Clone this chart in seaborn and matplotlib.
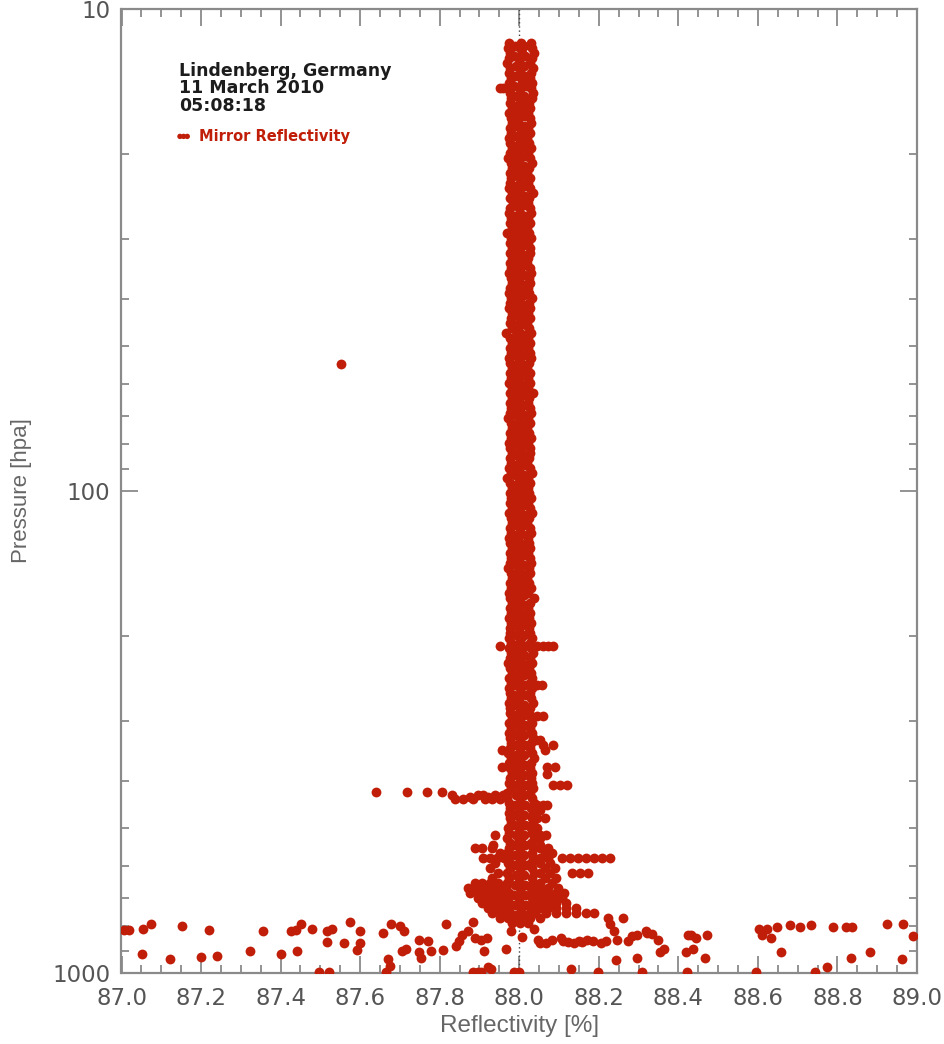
import matplotlib
matplotlib.use("Agg")
import matplotlib.pyplot as plt
from matplotlib import font_manager
from matplotlib.ticker import FixedLocator, NullFormatter, MultipleLocator
import pandas as pd
import seaborn as sns

# ---------------- data ----------------
# dense core column: pressure levels and three samples per level
col_p = [11.77, 12.05, 12.35, 12.64, 12.95, 13.26, 13.58, 13.91, 14.25, 14.59,
         14.94, 15.30, 15.67, 16.05, 16.44, 16.84, 17.24, 17.66, 18.09, 18.52,
         18.97, 19.43, 19.90, 20.38, 20.87, 21.38, 21.89, 22.42, 22.96, 23.52,
         24.09, 24.67, 25.26, 25.87, 26.50, 27.14, 27.80, 28.47, 29.16, 29.86,
         30.58, 31.32, 32.08, 32.85, 33.65, 34.46, 35.29, 36.14, 37.02, 37.91,
         38.83, 39.77, 40.73, 41.71, 42.72, 43.75, 44.81, 45.89, 47.00, 48.14,
         49.30, 50.49, 51.71, 52.96, 54.24, 55.55, 56.89, 58.27, 59.68, 61.12,
         62.60, 64.11, 65.66, 67.25, 68.87, 70.54, 72.24, 73.99, 75.78, 77.61,
         79.48, 81.40, 83.37, 85.38, 87.45, 89.56, 91.73, 93.94, 96.21, 98.54,
         100.9, 103.4, 105.9, 108.4, 111.0, 113.7, 116.5, 119.3, 122.2, 125.1,
         128.2, 131.3, 134.4, 137.7, 141.0, 144.4, 147.9, 151.5, 155.1, 158.9,
         162.7, 166.7, 170.7, 174.8, 179.1, 183.4, 187.8, 192.4, 197.0, 201.8,
         206.7, 211.7, 216.8, 222.0, 227.4, 232.9, 238.5, 244.3, 250.2, 256.2,
         262.4, 268.7, 275.2, 281.9, 288.7, 295.7, 302.8, 310.1, 317.6, 325.3,
         333.2, 341.2, 349.5, 357.9, 366.6, 375.4, 384.5, 393.8, 403.3, 413.1,
         423.0, 433.3, 443.7, 454.5, 465.5, 476.7, 488.2, 500.0, 512.1, 524.5,
         537.2, 550.2, 563.5, 577.1, 591.0, 605.3, 619.9, 634.9, 650.3, 666.0,
         682.1, 698.6, 715.5, 732.8, 750.5, 768.6]

col_left = [87.975, 87.972, 87.978, 87.974, 87.970, 87.976, 87.973, 87.979, 87.975, 87.968, 87.977, 87.980,
            87.978, 87.981, 87.975, 87.979, 87.983, 87.976, 87.980, 87.974, 87.978, 87.982,
            87.977, 87.971, 87.979, 87.983, 87.976, 87.980, 87.977, 87.973, 87.981, 87.978,
            87.984, 87.977, 87.975, 87.980, 87.978, 87.982, 87.969, 87.979, 87.976, 87.981,
            87.978, 87.983, 87.976, 87.980, 87.974, 87.979, 87.982, 87.977, 87.973, 87.980,
            87.978, 87.975, 87.982, 87.979, 87.976, 87.981, 87.967, 87.978, 87.983, 87.977,
            87.980, 87.975, 87.978, 87.982, 87.976, 87.979, 87.974, 87.981, 87.977, 87.983,
            87.976, 87.980, 87.978, 87.972, 87.979, 87.982, 87.976, 87.980, 87.975, 87.978,
            87.983, 87.977, 87.980, 87.974, 87.979, 87.968, 87.978, 87.982, 87.976, 87.980,
            87.977, 87.981, 87.975, 87.979, 87.983, 87.976, 87.980, 87.973, 87.978, 87.982,
            87.976, 87.980, 87.977, 87.971, 87.979, 87.983, 87.977, 87.980, 87.975, 87.978,
            87.982, 87.976, 87.979, 87.974, 87.980, 87.977,
            87.977, 87.973, 87.979, 87.975, 87.980, 87.976, 87.972, 87.978, 87.981, 87.975,
            87.979, 87.974, 87.977, 87.980, 87.973, 87.978, 87.976, 87.981, 87.975, 87.979,
            87.974, 87.978, 87.980, 87.976, 87.972, 87.979, 87.975, 87.978, 87.981, 87.976,
            87.974, 87.979, 87.970, 87.968, 87.975, 87.978, 87.973, 87.976, 87.979, 87.972,
            87.975, 87.970, 87.977, 87.973, 87.968, 87.975, 87.971, 87.976, 87.969, 87.974,
            87.970, 87.966, 87.973, 87.969, 87.975, 87.971, 87.976, 87.980]

col_mid = [88.004, 88.002, 88.006, 88.003, 88.000, 88.005, 88.002, 88.004, 88.006, 88.001, 88.003, 88.005,
           88.001, 87.998, 88.003, 88.000, 87.997, 88.002, 88.004, 87.999, 88.001, 88.003,
           87.998, 88.002, 88.000, 88.004, 87.999, 88.001, 88.003, 87.997, 88.002, 88.000,
           88.003, 87.999, 88.001, 88.004, 87.998, 88.002, 88.000, 88.003, 87.999, 88.001,
           88.002, 87.998, 88.003, 88.000, 88.004, 87.999, 88.001, 88.003, 87.998, 88.002,
           88.000, 88.004, 87.999, 88.002, 88.001, 87.997, 88.003, 88.000, 88.002, 87.999,
           88.003, 88.001, 87.998, 88.002, 88.004, 88.000, 87.999, 88.003, 88.001, 87.998,
           88.002, 88.000, 88.004, 87.999, 88.001, 88.003, 87.998, 88.002, 88.000, 88.004,
           87.999, 88.001, 88.003, 87.998, 88.002, 88.000, 88.004, 87.999, 88.001, 88.003,
           87.998, 88.002, 88.000, 88.004, 87.999, 88.001, 88.003, 87.998, 88.002, 88.000,
           88.004, 87.999, 88.001, 88.003, 87.998, 88.002, 88.000, 88.004, 87.999, 88.001,
           88.003, 87.998, 88.002, 88.000, 88.004, 87.999,
           88.002, 88.005, 87.999, 88.003, 88.001, 88.004, 87.998, 88.002, 88.005, 88.000,
           88.003, 88.001, 88.004, 87.999, 88.002, 88.005, 88.000, 88.003, 88.001, 88.004,
           87.999, 88.002, 88.005, 88.001, 88.003, 88.000, 88.004, 88.002, 87.999, 88.003,
           88.001, 88.005, 88.000, 88.002, 88.004, 87.999, 88.003, 88.001, 88.005, 88.000,
           88.002, 88.004, 87.998, 88.003, 88.001, 88.005, 88.000, 88.002, 88.004, 87.999,
           88.003, 88.001, 88.005, 88.000, 88.002, 88.004, 88.001, 88.003]

col_right = [88.030, 88.033, 88.036, 88.031, 88.028, 88.034, 88.030, 88.026, 88.032, 88.029, 88.035, 88.031,
             88.024, 88.028, 88.021, 88.026, 88.030, 88.023, 88.027, 88.020, 88.025, 88.029,
             88.022, 88.026, 88.031, 88.024, 88.019, 88.027, 88.023, 88.028, 88.034, 88.025,
             88.021, 88.026, 88.029, 88.023, 88.027, 88.020, 88.025, 88.030, 88.022, 88.026,
             88.028, 88.023, 88.019, 88.026, 88.030, 88.024, 88.027, 88.021, 88.025, 88.033,
             88.024, 88.028, 88.022, 88.026, 88.020, 88.025, 88.029, 88.023, 88.027, 88.021,
             88.026, 88.030, 88.024, 88.019, 88.027, 88.023, 88.028, 88.022, 88.035, 88.025,
             88.021, 88.026, 88.029, 88.023, 88.027, 88.020, 88.025, 88.030, 88.022, 88.026,
             88.028, 88.024, 88.020, 88.027, 88.031, 88.023, 88.026, 88.021, 88.025, 88.029,
             88.023, 88.027, 88.033, 88.024, 88.020, 88.026, 88.029, 88.022, 88.025, 88.028,
             88.021, 88.026, 88.030, 88.024, 88.027, 88.020, 88.025, 88.029, 88.023, 88.036,
             88.026, 88.022, 88.028, 88.024, 88.030, 88.025,
             88.028, 88.032, 88.026, 88.030, 88.035, 88.027, 88.031, 88.025, 88.029, 88.033,
             88.027, 88.031, 88.026, 88.030, 88.034, 88.028, 88.025, 88.030, 88.033, 88.027,
             88.031, 88.035, 88.029, 88.026, 88.032, 88.036, 88.030, 88.027, 88.033, 88.029,
             88.031, 88.035, 88.028, 88.032, 88.036, 88.030, 88.034, 88.031, 88.035, 88.029,
             88.032, 88.036, 88.030, 88.034, 88.031, 88.035, 88.029, 88.033, 88.036, 88.031,
             88.034, 88.030, 88.035, 88.032, 88.036, 88.031, 88.028, 88.025]

# in-between samples of the core column (levels between the ones above)
inner_p = [11.91, 12.49, 13.10, 13.74, 14.42, 15.12, 15.86, 16.64, 17.45, 18.30,
           19.20, 20.14, 21.12, 22.15, 23.24, 24.38, 25.56, 26.82, 28.13, 29.51,
           30.95, 32.46, 34.05, 35.71, 37.46, 39.30, 41.22, 43.23, 45.35, 47.57,
           49.89, 52.33, 54.89, 57.58, 60.40, 63.35, 66.45, 69.70, 73.11, 76.69,
           80.44, 84.37, 88.50, 92.83, 97.37, 102.1, 107.1, 112.3, 117.9, 123.6,
           129.7, 136.0, 142.7, 149.7, 157.0, 164.7, 172.7, 181.2, 190.1, 199.4,
           209.2, 219.4, 230.1, 241.4, 253.2, 265.5, 278.5, 292.2, 306.4, 321.4,
           337.2, 353.7, 371.0, 389.1, 408.2, 428.1, 449.1, 471.1, 494.1, 518.3,
           543.7, 570.3, 598.1, 627.4, 658.1, 690.3, 724.1, 759.5]
inner_left = [87.990, 87.988, 87.991, 87.989, 87.987, 87.990, 87.992, 87.988, 87.990, 87.989,
              87.991, 87.988, 87.990, 87.987, 87.991, 87.989, 87.992, 87.988, 87.990, 87.989,
              87.987, 87.991, 87.989, 87.990, 87.988, 87.992, 87.989, 87.990, 87.987, 87.991,
              87.989, 87.988, 87.990, 87.992, 87.988, 87.990, 87.989, 87.991, 87.987, 87.990,
              87.988, 87.991, 87.989, 87.990, 87.992, 87.988, 87.990, 87.989, 87.991, 87.987,
              87.990, 87.988, 87.991, 87.989, 87.990, 87.992, 87.988, 87.990, 87.987, 87.991,
              87.989, 87.990, 87.988, 87.991, 87.989, 87.987, 87.990, 87.992, 87.988, 87.990,
              87.989, 87.991, 87.988, 87.990, 87.987, 87.991, 87.989, 87.990, 87.988, 87.992,
              87.989, 87.990, 87.987, 87.991, 87.989, 87.988, 87.990, 87.991]
inner_right = [88.013, 88.015, 88.012, 88.014, 88.016, 88.013, 88.011, 88.015, 88.013, 88.014,
               88.012, 88.015, 88.013, 88.016, 88.012, 88.014, 88.011, 88.015, 88.013, 88.014,
               88.016, 88.012, 88.014, 88.013, 88.015, 88.011, 88.014, 88.013, 88.016, 88.012,
               88.014, 88.015, 88.013, 88.011, 88.015, 88.013, 88.014, 88.012, 88.016, 88.013,
               88.015, 88.012, 88.014, 88.013, 88.011, 88.015, 88.013, 88.014, 88.012, 88.016,
               88.013, 88.015, 88.012, 88.014, 88.013, 88.011, 88.015, 88.013, 88.016, 88.012,
               88.014, 88.013, 88.015, 88.012, 88.014, 88.016, 88.013, 88.011, 88.015, 88.013,
               88.014, 88.012, 88.015, 88.013, 88.016, 88.012, 88.014, 88.013, 88.015, 88.011,
               88.014, 88.013, 88.016, 88.012, 88.014, 88.015, 88.016, 88.018]

# side bumps of the column and the low-level tail near 430 hPa
spur_rows_p = [14.6, 209.7, 252.7, 293.0, 328.6, 337.0, 344.7, 373.8, 386.0, 407.4,
               421.3, 427.3, 431.0, 436.0, 448.3, 459.0, 477.0, 500.0, 524.5, 542.6]
spur_rows_x = [
    [87.951, 87.958],
    [87.951, 88.044, 88.059, 88.072, 88.084],
    [88.044, 88.057],
    [88.044, 88.059],
    [88.042, 88.052],
    [88.059, 88.084],
    [87.956, 88.064],
    [87.956, 88.069, 88.089],
    [88.069],
    [88.084, 88.102, 88.120],
    [87.641, 87.717, 87.767, 87.805],
    [87.830, 87.896, 87.908, 87.938, 87.958],
    [87.875, 87.921, 87.946],
    [87.838, 87.858, 87.883, 87.913, 87.931, 87.951],
    [88.044, 88.059, 88.069],
    [88.052],
    [88.044, 88.064],
    [88.044],
    [88.042, 88.052],
    [87.933, 88.052],
]

# widening near the ground (500-790 hPa)
fan_rows_p = [517.3, 550.2, 563.7, 577.3, 591.0, 605.3, 620.0, 635.0, 650.3,
              666.0, 682.1, 698.6, 715.5, 732.8, 750.5, 768.6, 787.5]
fan_rows_x = [
    [87.938, 88.052, 88.067],
    [87.888, 87.906, 87.931, 88.052, 88.072],
    [87.951, 88.064, 88.082],
    [87.908, 87.926, 87.943, 87.961, 88.052, 88.072, 88.107, 88.127, 88.147, 88.167, 88.187, 88.208, 88.228],
    [87.938, 88.052, 88.077],
    [87.926, 88.064, 88.089],
    [87.946, 88.052, 88.077, 88.132, 88.152, 88.172],
    [87.931, 88.064, 88.092],
    [87.888, 87.906, 87.926, 87.946, 88.052, 88.082],
    [87.871, 87.888, 87.911, 87.931, 87.951, 88.052, 88.072, 88.097],
    [87.875, 87.896, 87.916, 87.936, 87.956, 88.036, 88.052, 88.072, 88.092, 88.112],
    [87.896, 87.916, 87.936, 87.956, 88.052, 88.072, 88.092, 88.107],
    [87.906, 87.926, 87.946, 87.961, 88.036, 88.052, 88.072, 88.092, 88.117],
    [87.921, 87.941, 87.961, 88.052, 88.072, 88.092, 88.117, 88.142],
    [87.931, 87.951, 87.966, 88.039, 88.067, 88.092, 88.117, 88.142, 88.167, 88.187],
    [87.951, 87.971, 88.026, 88.052, 88.223, 88.260],
    [87.981, 88.001, 88.021],
]

# scattered values close to the surface
surf_x = [87.007, 87.018, 87.055, 87.073, 87.151, 87.219, 87.052, 87.121, 87.199, 87.240,
          87.322, 87.356, 87.401, 87.425, 87.438, 87.452, 87.442, 87.479, 87.516, 87.530,
          87.516, 87.497, 87.521, 87.559, 87.575, 87.599, 87.599, 87.593, 87.664, 87.658,
          87.678, 87.699, 87.710, 87.671, 87.675, 87.705, 87.716, 87.747, 87.749, 87.753,
          87.771, 87.778, 87.815, 87.808, 87.842, 87.849, 87.856, 87.870, 87.884, 87.890,
          87.904, 87.918, 87.911, 87.922, 87.897, 87.966, 87.979, 88.000, 88.007, 88.037,
          88.048, 88.052, 88.066, 88.082, 88.105, 88.110, 88.123, 88.137, 88.151, 88.158,
          88.171, 88.185, 88.205, 88.219, 88.229, 88.237, 88.247, 88.244, 88.274, 88.284,
          88.295, 88.295, 88.319, 88.322, 88.333, 88.349, 88.353, 88.363, 88.418, 88.425,
          88.432, 88.445, 88.438, 88.473, 88.466, 88.421, 88.603, 88.610, 88.623, 88.634,
          88.648, 88.658, 88.681, 88.705, 88.733, 88.744, 88.774, 88.788, 88.822, 88.833,
          88.836, 88.881, 88.925, 88.966, 88.963, 88.990, 87.884, 87.904, 87.930, 87.986,
          88.130, 88.199, 88.308, 88.596]
surf_p = [814, 814, 811, 790, 800, 814, 914, 936, 927, 923,
          901, 818, 914, 818, 814, 790, 901, 811, 818, 811,
          863, 995, 995, 867, 784, 818, 867, 896, 995, 826,
          790, 799, 818, 936, 967, 901, 892, 854, 905, 932,
          858, 901, 790, 896, 879, 858, 834, 818, 784, 846,
          854, 846, 901, 972, 995, 892, 818, 995, 842, 811,
          854, 867, 867, 854, 846, 858, 863, 867, 858, 863,
          854, 858, 867, 858, 790, 818, 854, 940, 858, 838,
          834, 932, 818, 826, 830, 854, 905, 892, 905, 834,
          834, 846, 892, 834, 932, 995, 811, 834, 811, 846,
          803, 905, 795, 803, 795, 995, 972, 803, 803, 932,
          803, 905, 790, 790, 936, 838, 995, 995, 980, 995,
          980, 995, 995, 995]

# single outlier
outlier_x = [87.553]
outlier_p = [54.5]

x_ticks = [87.0, 87.2, 87.4, 87.6, 87.8, 88.0, 88.2, 88.4, 88.6, 88.8, 89.0]
x_tick_labels = ["87.0", "87.2", "87.4", "87.6", "87.8", "88.0", "88.2", "88.4", "88.6", "88.8", "89.0"]
y_ticks = [10, 100, 1000]
y_tick_labels = ["10", "100", "1000"]
y_minor = [20, 30, 40, 50, 60, 70, 80, 90, 200, 300, 400, 500, 600, 700, 800, 900]

station_text = "Lindenberg, Germany\n11 March 2010\n05:08:18"
series_name = "Mirror Reflectivity"

# ---------------- assemble ----------------
refl, pres = [], []
for xs in (col_left, col_mid, col_right):
    refl += xs
    pres += col_p
for xs in (inner_left, inner_right):
    refl += xs
    pres += inner_p
for rows_p, rows_x in ((spur_rows_p, spur_rows_x), (fan_rows_p, fan_rows_x)):
    for p, xs in zip(rows_p, rows_x):
        refl += xs
        pres += [p] * len(xs)
refl += surf_x + outlier_x
pres += surf_p + outlier_p
df = pd.DataFrame({"refl": refl, "pres": pres})

# ---------------- style ----------------
sns.set_style("white")
plt.rcParams["font.family"] = ["DejaVu Sans"]
names = {f.name for f in font_manager.fontManager.ttflist}
label_family = "Liberation Sans Narrow" if "Liberation Sans Narrow" in names else "Liberation Sans"

RED = "#C01E08"
AXC = "#8a8a8a"
TXC = "#555555"

fig = plt.figure(figsize=(9.45, 10.44), dpi=100)
ax = fig.add_axes([121.5 / 945, 71 / 1044, 795.5 / 945, 964 / 1044])

ax.axvline(88.0, color="#444444", linestyle=(0, (1, 2)), linewidth=1.0, zorder=1)
sns.scatterplot(data=df, x="refl", y="pres", color=RED, s=50, linewidth=0,
                ax=ax, label=series_name, zorder=3, legend=False)

ax.set_yscale("log")
ax.set_xlim(87.0, 89.0)
ax.set_ylim(1000, 10)

ax.xaxis.set_major_locator(FixedLocator(x_ticks))
ax.set_xticklabels(x_tick_labels)
ax.xaxis.set_minor_locator(MultipleLocator(0.05))
ax.yaxis.set_major_locator(FixedLocator(y_ticks))
ax.set_yticklabels(y_tick_labels)
ax.yaxis.set_minor_locator(FixedLocator(y_minor))
ax.yaxis.set_minor_formatter(NullFormatter())

ax.tick_params(which="both", direction="in", top=True, right=True, bottom=True, left=True,
               color=AXC, width=1.3, labelcolor=TXC, labelsize=16.5)
ax.tick_params(which="major", length=12)
ax.tick_params(which="minor", length=6)
ax.tick_params(axis="x", which="major", pad=10)
ax.tick_params(axis="y", which="major", pad=8)
for s in ax.spines.values():
    s.set_color(AXC)
    s.set_linewidth(1.6)
    s.set_visible(True)

ax.set_xlabel("Reflectivity [%]", fontsize=17.5, color="#666666", family=label_family)
ax.set_ylabel("Pressure [hpa]", fontsize=16, color="#666666", family=label_family)
ax.xaxis.set_label_coords(0.5, -0.044)
ax.yaxis.set_label_coords(-0.112, 0.5)

ax.text(0.072, 0.945, station_text, transform=ax.transAxes, ha="left", va="top",
        fontsize=12.5, fontweight="bold", color="#1c1c1c", linespacing=0.95)

leg = ax.legend(loc="upper left", bbox_to_anchor=(0.068, 0.875), frameon=False,
                scatterpoints=3, scatteryoffsets=[0.5], markerscale=0.55,
                handlelength=1.1, handletextpad=0.5, borderpad=0, borderaxespad=0,
                prop={"size": 10.5, "weight": "bold"}, labelcolor=RED)

fig.savefig("out.png", dpi=100)
